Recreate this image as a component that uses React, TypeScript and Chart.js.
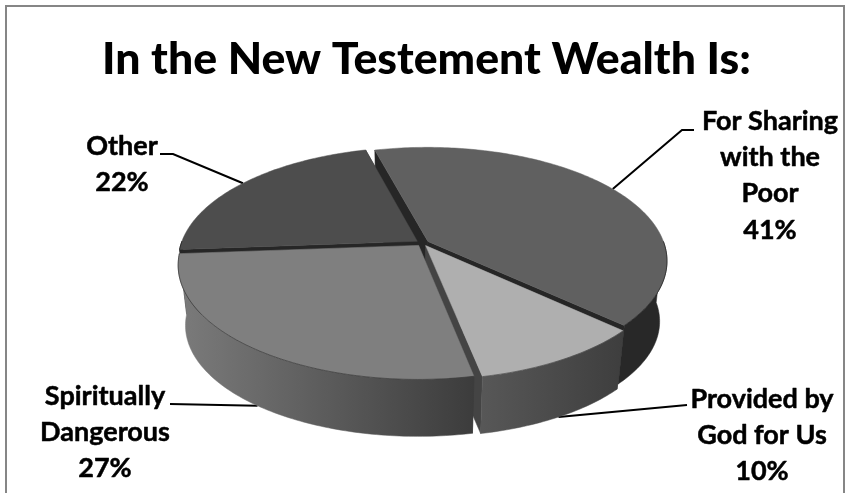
import { useEffect, useRef } from "react";
import { Chart, registerables } from "chart.js";

Chart.register(...registerables);

const categories = ["For Sharing with the Poor", "Provided by God for Us", "Spiritually Dangerous", "Other"];
const shares = [41, 10, 27, 22];
const labelLines = [["For Sharing", "with the", "Poor"], ["Provided by", "God for Us"], ["Spiritually", "Dangerous"], ["Other"]];
const topColors = ["#606060", "#afafaf", "#7f7f7f", "#4d4d4d"];
const faceColors = ["#262626", "#444444", "#3c3c3c", "#262626"];
const wallLeft = ["#282828", "#575757", "#7b7b7b", "#262626"];
const wallRight = ["#282828", "#3e3e3e", "#3c3c3c", "#262626"];

// Far slices first, so that nearer prisms paint over them.
const paintOrder = [0, 3, 1, 2];

// Label block centre (x), first line (y), and where each leader line meets its text.
const labelCentreX = [770, 762, 105, 122];
const labelFirstY = [121, 399, 396, 146];
const LINE_HEIGHT = 36.3;
const leaderElbows = [[[682, 130], [694, 130]], [[687, 405]], [[170, 404]], [[173, 154], [160, 154]]];
const leaderDepth = [0, 1, 1, 0];

// Camera model for the tilted disc.
const CX = 422.5, CY = 243, RX = 236, RY = 110.5, PERSPECTIVE = 0.169;
const TAPER = 0.03, DROP = 61;

function project(x: number, y: number, z: number): [number, number] {
  const den = 1 + PERSPECTIVE * y;
  const s = 1 - TAPER * z;
  return [CX + ((RX * x) / den) * s, CY + ((-RY * y) / den) * s + DROP * z];
}

function sliceGeometry(el: any) {
  const { startAngle, endAngle } = el.getProps(["startAngle", "endAngle"], true);
  const mid = (startAngle + endAngle) / 2;
  const e = (el.options.offset || 0) / RX;
  const ox = e * Math.cos(mid);
  const oy = -e * Math.sin(mid);
  const rim = (a: number, z: number) => project(ox + Math.cos(a), oy - Math.sin(a), z);
  const apex = (z: number) => project(ox, oy, z);
  return { startAngle, endAngle, mid, rim, apex };
}

function polygon(ctx: CanvasRenderingContext2D, pts: [number, number][], fill: string | CanvasGradient) {
  ctx.beginPath();
  pts.forEach((p, i) => (i ? ctx.lineTo(p[0], p[1]) : ctx.moveTo(p[0], p[1])));
  ctx.closePath();
  ctx.fillStyle = fill;
  ctx.fill();
  ctx.strokeStyle = fill;
  ctx.lineWidth = 0.5;
  ctx.stroke();
}

function arcPoints(rim: (a: number, z: number) => [number, number], a0: number, a1: number, z: number) {
  const pts: [number, number][] = [];
  const n = Math.max(4, Math.ceil(Math.abs(a1 - a0) * 60));
  for (let i = 0; i <= n; i++) pts.push(rim(a0 + ((a1 - a0) * i) / n, z));
  return pts;
}

const tiltedPie = {
  id: "tiltedPie",
  beforeDatasetsDraw(chart: any) {
    const ctx: CanvasRenderingContext2D = chart.ctx;
    const arcs = chart.getDatasetMeta(0).data;

    // Leader lines run underneath the pie and stop at its edge.
    ctx.save();
    ctx.strokeStyle = "#000000";
    ctx.lineWidth = 2;
    arcs.forEach((el: any, i: number) => {
      const g = sliceGeometry(el);
      const from = g.rim(g.mid, leaderDepth[i]);
      ctx.beginPath();
      ctx.moveTo(from[0], from[1]);
      leaderElbows[i].forEach((p) => ctx.lineTo(p[0], p[1]));
      ctx.stroke();
    });
    ctx.restore();

    paintOrder.forEach((i) => {
      const g = sliceGeometry(arcs[i]);
      const { startAngle: a0, endAngle: a1 } = g;

      // Radial cut faces.
      [a0, a1].forEach((a) => {
        polygon(ctx, [g.apex(0), g.rim(a, 0), g.rim(a, 1), g.apex(1)], faceColors[i]);
      });

      // Outer wall: only the part turned towards the viewer.
      const lo = Math.max(a0, 0);
      const hi = Math.min(a1, Math.PI);
      if (hi > lo) {
        const top = arcPoints(g.rim, lo, hi, 0);
        const bottom = arcPoints(g.rim, hi, lo, 1);
        const xs = top.map((p) => p[0]);
        const shade = ctx.createLinearGradient(Math.min(...xs), 0, Math.max(...xs), 0);
        shade.addColorStop(0, wallLeft[i]);
        shade.addColorStop(1, wallRight[i]);
        polygon(ctx, [...top, ...bottom], shade);
      }

      // Top surface.
      polygon(ctx, [g.apex(0), ...arcPoints(g.rim, a0, a1, 0)], arcs[i].options.backgroundColor);

      // Thin shadow where the top surface meets the wall.
      if (hi > lo) {
        const edge = arcPoints(g.rim, lo, hi, 0);
        ctx.beginPath();
        edge.forEach((p, k) => (k ? ctx.lineTo(p[0], p[1]) : ctx.moveTo(p[0], p[1])));
        ctx.strokeStyle = "rgba(0,0,0,0.4)";
        ctx.lineWidth = 1;
        ctx.stroke();
      }
    });
    return false;
  },
  afterDraw(chart: any) {
    const ctx: CanvasRenderingContext2D = chart.ctx;
    ctx.save();
    ctx.fillStyle = "#000000";
    ctx.strokeStyle = "#000000";
    ctx.lineWidth = 0.5;
    ctx.lineJoin = "round";
    ctx.font = "bold 27px Lato";
    ctx.textAlign = "center";
    ctx.textBaseline = "middle";
    categories.forEach((_, i) => {
      [...labelLines[i], `${shares[i]}%`].forEach((line, j) => {
        const y = labelFirstY[i] + j * LINE_HEIGHT;
        ctx.fillText(line, labelCentreX[i], y);
        ctx.strokeText(line, labelCentreX[i], y);
      });
    });
    ctx.restore();
  },
};

export default function App() {
  const ref = useRef<HTMLCanvasElement | null>(null);

  useEffect(() => {
    const chart = new Chart(ref.current as HTMLCanvasElement, {
      type: "pie",
      data: {
        labels: categories,
        datasets: [{ data: shares, backgroundColor: topColors, borderWidth: 0, offset: 6.4 }],
      },
      options: {
        animation: false,
        responsive: false,
        rotation: -15,
        layout: { padding: { left: 7 } },
        plugins: {
          legend: { display: false },
          tooltip: { enabled: false },
          title: {
            display: true,
            text: "In the New Testement Wealth Is:",
            color: "#000000",
            font: { family: "Lato", size: 44.6, weight: "900" },
            padding: { top: 33, bottom: 10 },
          },
        },
      },
      plugins: [tiltedPie],
    } as any);
    return () => chart.destroy();
  }, []);

  return (
    <div style={{ position: "fixed", left: 0, top: 0, width: 846, height: 493, overflow: "hidden", background: "#ffffff" }}>
      <canvas ref={ref} width={846} height={493} style={{ position: "absolute", left: 0, top: 0, display: "block" }} />
      <div style={{ position: "absolute", left: 5, top: 5, width: 840, height: 520, boxSizing: "border-box", border: "2px solid #868686", pointerEvents: "none" }} />
    </div>
  );
}
